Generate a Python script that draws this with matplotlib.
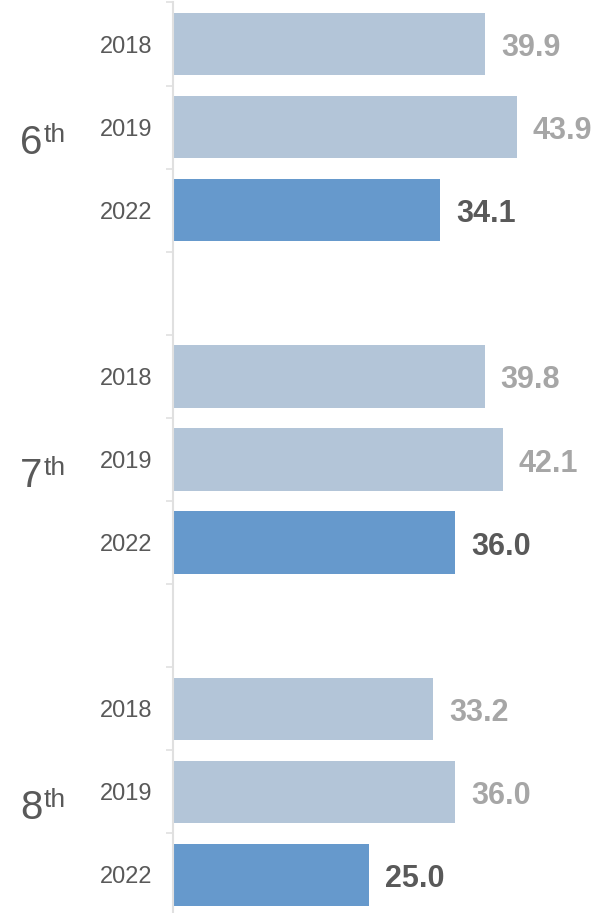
import numpy as np
import matplotlib.pyplot as plt

# --- Data ---
grades = ["6", "7", "8"]
years = ["2018", "2019", "2022"]
grade6 = [39.9, 43.9, 34.1]
grade7 = [39.8, 42.1, 36.0]
grade8 = [33.2, 36.0, 25.0]

light_bar = "#b3c5d8"
dark_bar = "#6699cc"
light_txt = "#a6a6a6"
dark_txt = "#595959"

plt.rcParams["font.family"] = ["Liberation Sans", "DejaVu Sans"]

# slots: 3 bars per grade + one blank slot between grades
values, labels, slots = [], [], []
pos = 0
for vals in [grade6, grade7, grade8]:
    for yr, v in zip(years, vals):
        values.append(v)
        labels.append(yr)
        slots.append(pos)
        pos += 1
    pos += 1
n_slots = pos - 1

fig = plt.figure(figsize=(5.99, 9.13), dpi=100)
ax = fig.add_axes([173 / 599, -3.5 / 913, 426 / 599, 914 / 913])

colors = [dark_bar if yr == "2022" else light_bar for yr in labels]
ax.barh(slots, values, height=0.75, color=colors, zorder=2)

ax.set_xlim(0, 54.4)
ax.set_ylim(n_slots - 0.5, -0.5)

# value labels
for s, v, yr in zip(slots, values, labels):
    ax.annotate(f"{v:.1f}", xy=(v, s), xytext=(16, -12), textcoords="offset pixels",
                ha="left", va="baseline", fontsize=22, fontweight="bold",
                color=dark_txt if yr == "2022" else light_txt)

# year labels at slot centres, tick marks at slot boundaries
ax.set_yticks(slots)
ax.set_yticklabels(labels, fontsize=17, color=dark_txt)
ax.tick_params(axis="y", which="major", length=0, pad=15)
ax.set_yticks(np.arange(-0.5, n_slots + 0.5, 1.0), minor=True)
ax.tick_params(axis="y", which="minor", length=5, width=1.2, color="#e0e0e0")

ax.set_xticks([])
for side in ["top", "right", "bottom"]:
    ax.spines[side].set_visible(False)
ax.spines["left"].set_color("#e0e0e0")
ax.spines["left"].set_linewidth(1.5)

# grade labels with superscript
for g, s in zip(grades, slots[1::3]):
    ax.annotate(g, xy=(0, s), xycoords=("axes fraction", "data"),
                xytext=(-153, -27), textcoords="offset pixels",
                ha="left", va="baseline", fontsize=29, color=dark_txt)
    ax.annotate("th", xy=(0, s), xycoords=("axes fraction", "data"),
                xytext=(-129, -15), textcoords="offset pixels",
                ha="left", va="baseline", fontsize=19, color=dark_txt)

fig.savefig("out.png", dpi=100)
